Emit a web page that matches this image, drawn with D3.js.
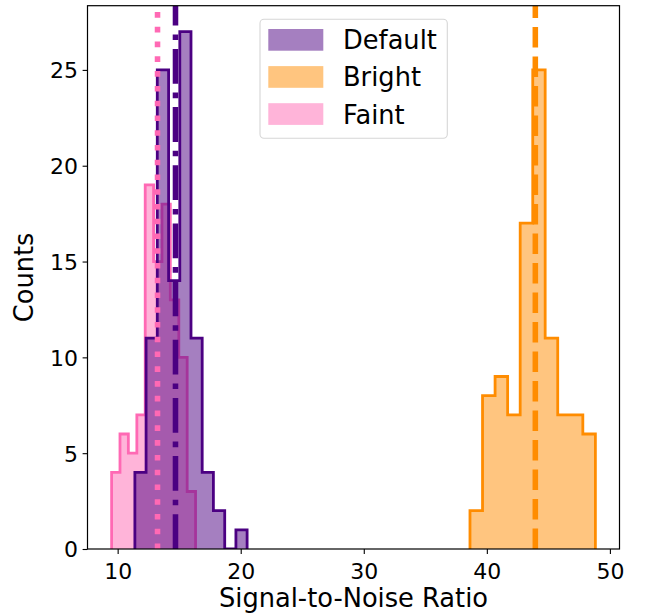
<!DOCTYPE html>
<html>
<head>
<meta charset="utf-8">
<script src="https://cdn.jsdelivr.net/npm/d3@7"></script>
<style>
  html, body { margin: 0; padding: 0; background: #fff; }
  svg { display: block; font-family: "DejaVu Sans", sans-serif; }
</style>
</head>
<body>
<svg id="chart" width="646" height="616"></svg>
<script>
// ---- data ----
const seriesNames = ["Default", "Bright", "Faint"];
const defaultEdges = [11.40, 12.31, 13.22, 14.14, 15.05, 15.96, 16.87, 17.78, 18.70, 19.61, 20.52];
const defaultCounts = [4, 11, 25, 14, 27, 11, 4, 2, 0, 1];
const brightEdges = [38.63, 39.65, 40.67, 41.69, 42.71, 43.73, 44.74, 45.76, 46.78, 47.80, 48.82];
const brightCounts = [2, 8, 9, 7, 17, 25, 11, 7, 7, 6];
const faintEdges = [9.51, 10.19, 10.87, 11.56, 12.24, 12.92, 13.60, 14.28, 14.97, 15.65, 16.33];
const faintCounts = [4, 6, 5, 7, 19, 15, 18, 13, 10, 3];
const meanValues = [14.70, 43.94, 13.24];
const xTicks = [10, 20, 30, 40, 50];
const yTicks = [0, 5, 10, 15, 20, 25];
const xLabel = "Signal-to-Noise Ratio";
const yLabel = "Counts";

// ---- styles ----
const colors = { Default: "#4b0082", Bright: "#ff8c00", Faint: "#ff69b4" };
const dashes = { Default: "34.8 8.9 5.56 8.9", Bright: "20.6 8.9", Faint: "5.56 9.2" };

const svg = d3.select("#chart");
const L = 87.5, R = 619.5, T = 5.7, B = 549;
const x = d3.scaleLinear().domain([7.55, 50.78]).range([L, R]);
const y = d3.scaleLinear().domain([0, 28.35]).range([B, T]);

const data = {
  Default: { edges: defaultEdges, counts: defaultCounts },
  Bright: { edges: brightEdges, counts: brightCounts },
  Faint: { edges: faintEdges, counts: faintCounts }
};

function stepPoints(edges, counts) {
  const pts = [[edges[0], 0]];
  counts.forEach((c, i) => { pts.push([edges[i], c]); pts.push([edges[i + 1], c]); });
  pts.push([edges[edges.length - 1], 0]);
  return pts;
}
const line = d3.line().x(d => x(d[0])).y(d => y(d[1]));

const plot = svg.append("g");
plot.append("clipPath").attr("id", "clip").append("rect")
  .attr("x", L).attr("y", T).attr("width", R - L).attr("height", B - T);
const g = plot.append("g").attr("clip-path", "url(#clip)");

// draw order: Faint, Bright, Default
["Faint", "Bright", "Default"].forEach(name => {
  const pts = stepPoints(data[name].edges, data[name].counts);
  g.append("path").attr("d", line(pts) + "Z")
    .attr("fill", colors[name]).attr("fill-opacity", 0.5).attr("stroke", "none");
  g.append("path").attr("d", line(pts))
    .attr("fill", "none").attr("stroke", colors[name])
    .attr("stroke-width", 2.8).attr("stroke-linejoin", "miter");
});

// mean lines
seriesNames.forEach((name, i) => {
  g.append("line")
    .attr("x1", x(meanValues[i])).attr("x2", x(meanValues[i]))
    .attr("y1", B).attr("y2", T)
    .attr("stroke", colors[name]).attr("stroke-width", 5.56)
    .attr("stroke-dasharray", dashes[name]);
});

// axes
const xAxis = d3.axisBottom(x).tickValues(xTicks).tickSize(4.9).tickPadding(4.5).tickFormat(d3.format("d"));
const yAxis = d3.axisLeft(y).tickValues(yTicks).tickSize(4.9).tickPadding(4.5).tickFormat(d3.format("d"));
const gx = svg.append("g").attr("transform", `translate(0,${B})`).call(xAxis);
const gy = svg.append("g").attr("transform", `translate(${L},0)`).call(yAxis);
[gx, gy].forEach(a => {
  a.select(".domain").remove();
  a.selectAll(".tick line").attr("stroke", "#000").attr("stroke-width", 1.1);
  a.selectAll(".tick text").attr("fill", "#000").style("font-size", "22px")
    .style("font-family", "DejaVu Sans");
});
gx.selectAll(".tick text").attr("dy", "0.95em");
gy.selectAll(".tick text").attr("dy", "0.36em");

// spines
svg.append("rect").attr("x", L).attr("y", T).attr("width", R - L).attr("height", B - T)
  .attr("fill", "none").attr("stroke", "#000").attr("stroke-width", 1.2);

// labels
svg.append("text").attr("x", (L + R) / 2).attr("y", 607).attr("text-anchor", "middle")
  .style("font-size", "25.7px").text(xLabel);
svg.append("text").attr("transform", `translate(33,${(T + B) / 2}) rotate(-90)`)
  .attr("text-anchor", "middle").style("font-size", "25.7px").text(yLabel);

// legend
const lg = svg.append("g");
lg.append("rect").attr("x", 260).attr("y", 19.3).attr("width", 187.3).attr("height", 119)
  .attr("rx", 4).attr("fill", "#fff").attr("fill-opacity", 0.8)
  .attr("stroke", "#d6d6d6").attr("stroke-width", 1.1);
seriesNames.forEach((name, i) => {
  const yy = 29 + i * 37.1;
  lg.append("rect").attr("x", 268.3).attr("y", yy).attr("width", 55).attr("height", 21.7)
    .attr("fill", colors[name]).attr("fill-opacity", 0.5);
  lg.append("text").attr("x", 343).attr("y", yy + 20.3).style("font-size", "25.7px")
    .attr("fill", "#000").text(name);
});
</script>
</body>
</html>
